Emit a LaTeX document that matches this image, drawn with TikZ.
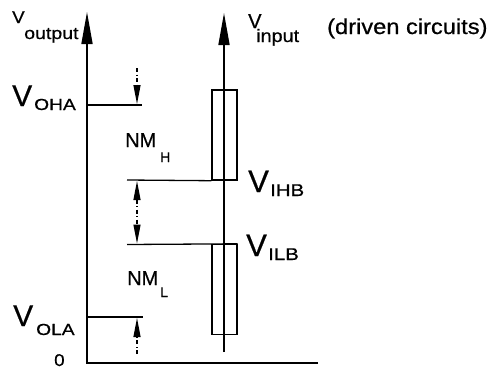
\documentclass[tikz,border=0pt]{standalone}
\usepackage{fontspec}
\setmainfont[FakeBold=0.6]{Liberation Sans}
\usetikzlibrary{arrows.meta}
\newcommand{\fsz}[2]{\fontsize{#1}{#1}\selectfont #2}
\newcommand{\wdr}[2]{\scalebox{#1}[1]{#2}}
\tikzset{smallhead/.tip={Triangle[length=19pt,width=7pt]},
  bighead/.tip={Triangle[length=32pt,width=11pt]}}
\begin{document}
\begin{tikzpicture}[x=1pt,y=-1pt,
  axis/.style={line width=1.6pt},
  bigarrow/.style={-{bighead}},
  lev/.style={line width=1.3pt},
  box/.style={draw,line width=1.4pt,minimum width=25pt,minimum height=90pt,inner sep=0pt},
  dashshaft/.style={line width=1.2pt,dash pattern=on 4pt off 2.5pt on 1pt off 2.5pt},
  lbl/.style={anchor=base west,inner sep=0pt}]
\useasboundingbox (0,0) rectangle (492,370);
% axes
\coordinate (o) at (87,363);
\coordinate (ltop) at (87,12);
\coordinate (xend) at (318,363);
\coordinate (rbot) at (224,352);
\coordinate (rtop) at (224,13);
\draw[axis,bigarrow] (xend) -- (o) -- (ltop);
% boxes
\node[box] (boxH) at (224.5,135) {};
\node[box] (boxL) at (224.5,289.5) {};
\draw[axis,bigarrow] (rbot) -- (rtop);
% levels
\coordinate (ohaL) at (87,105);
\coordinate (ohaR) at (142,105);
\coordinate (ihbL) at (127,180);
\coordinate (ilbL) at (127,244.5);
\coordinate (olaL) at (87,317);
\coordinate (olaR) at (143,317);
\draw[lev] (ohaL) -- (ohaR);
\draw[lev] (ihbL) -- (boxH.south west);
\draw[lev] (ilbL) -- (boxL.north east);
\draw[lev] (olaL) -- (olaR);
% noise-margin arrows
\coordinate (a1) at (137,68);
\coordinate (a1t) at (137,104);
\coordinate (a2t) at (137,181);
\coordinate (a2b) at (137,243.5);
\coordinate (a3t) at (137,318);
\coordinate (a3b) at (137,354);
\draw[dashshaft,-{smallhead}] (a1) -- (a1t);
\draw[dashshaft,{smallhead}-{smallhead}] (a2t) -- (a2b);
\draw[dashshaft,-{smallhead}] (a3b) -- (a3t);
% labels
\node[lbl] (vo) at (12,23) {\wdr{1.1}{\fsz{17}{V}}};
\node[lbl] (vos) at (24,39) {\wdr{1.15}{\fsz{17}{output}}};
\node[lbl] (vi) at (248,28) {\fsz{20}{V}};
\node[lbl] (vis) at (256,42) {\wdr{1.1}{\fsz{18}{input}}};
\node[lbl] (dc) at (327,34) {\wdr{1.1}{\fsz{21.5}{(driven circuits)}}};
\node[lbl] (voha) at (12,106) {\fsz{30}{V}};
\node[lbl] (vohas) at (34,110) {\wdr{1.2}{\fsz{16}{OHA}}};
\node[lbl] (nmh) at (125,147) {\fsz{20}{NM}};
\node[lbl] (nmhs) at (160,162) {\fsz{14}{H}};
\node[lbl] (vihb) at (248,192) {\fsz{31}{V}};
\node[lbl] (vihbs) at (270,196) {\wdr{1.2}{\fsz{17}{IHB}}};
\node[lbl] (vilb) at (246,256) {\fsz{31}{V}};
\node[lbl] (vilbs) at (268,260) {\wdr{1.2}{\fsz{17}{ILB}}};
\node[lbl] (nml) at (127,285) {\fsz{20}{NM}};
\node[lbl] (nmls) at (160,297) {\fsz{14}{L}};
\node[lbl] (vola) at (13,326) {\fsz{30}{V}};
\node[lbl] (volas) at (36,335) {\wdr{1.2}{\fsz{16}{OLA}}};
\node[lbl] (zero) at (54,366) {\wdr{1.1}{\fsz{17}{0}}};
\end{tikzpicture}
\end{document}
